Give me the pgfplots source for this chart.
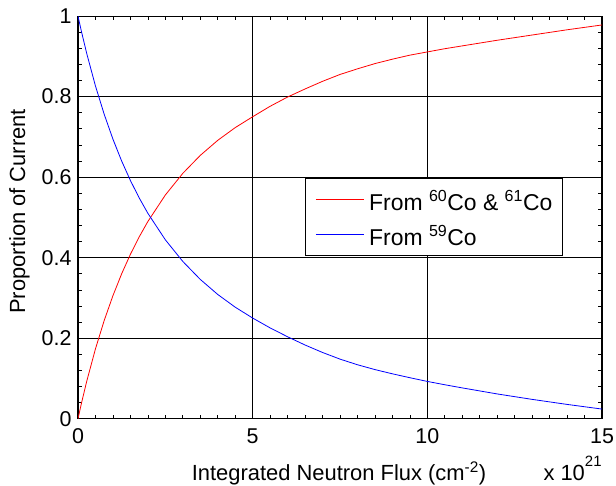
\documentclass[border=0pt]{standalone}
\usepackage{fontspec}
\setmainfont{Liberation Sans}
\usepackage{pgfplots}
\usepackage{pgfplotstable}
\pgfplotsset{compat=1.18}
\pgfplotstableread{
x     blue    red
0     1.0000  0.0000
0.1   0.9612  0.0388
0.25  0.9070  0.0930
0.5   0.8264  0.1736
0.75  0.7561  0.2439
1     0.6944  0.3056
1.25  0.6400  0.3600
1.5   0.5917  0.4083
1.75  0.5487  0.4513
2     0.5102  0.4898
2.5   0.4444  0.5556
3     0.3906  0.6094
3.5   0.3460  0.6540
4     0.3086  0.6914
4.5   0.2770  0.7230
5     0.2500  0.7500
5.5   0.2255  0.7760
6     0.2035  0.7990
6.5   0.1830  0.8190
7     0.1645  0.8380
7.5   0.1480  0.8550
8     0.1340  0.8690
8.5   0.1220  0.8820
9     0.1115  0.8930
9.5   0.1018  0.9030
10    0.0926  0.9110
10.5  0.0843  0.9190
11    0.0765  0.9260
12    0.0615  0.9400
13    0.0480  0.9530
14    0.0355  0.9660
15    0.0239  0.9780
}\datatable
\begin{document}
\fontsize{22}{26}\selectfont
\begin{tikzpicture}
\path[use as bounding box] (-78bp,-66.7bp) rectangle (538bp,418.7bp);
\begin{axis}[
  scale only axis, width=524bp, height=402.6bp,
  at={(0,0)}, anchor=south west,
  clip mode=individual,
  xmin=0, xmax=15, ymin=0, ymax=1,
  xtick={0,5,10,15}, ytick={0,0.2,0.4,0.6,0.8,1},
  xticklabels={0,5,10,15}, yticklabels={0,0.2,0.4,0.6,0.8,1},
  minor x tick num=9, minor y tick num=4,
  tick align=inside, major tick length=5bp, minor tick length=4bp,
  grid=major, major grid style={black, line width=0.7bp},
  axis line style={black, line width=1.1bp},
  tick style={black, line width=0.7bp},
  /pgf/number format/assume math mode=true,
  tick label style={font=\fontsize{21.5}{25}\selectfont},
  xticklabel style={inner sep=0pt, anchor=north, yshift=-9.4bp},
  yticklabel style={inner sep=0pt, anchor=east, xshift=-6.3bp},
  xlabel={Integrated Neutron Flux (cm\textsuperscript{-2})},
  ylabel={Proportion of Current},
  label style={font=\fontsize{22}{26}\selectfont},
  xlabel style={at={(axis description cs:0.498,-0.153)}, anchor=base, inner sep=0pt},
  ylabel style={at={(axis description cs:-0.1011,0.515)}, anchor=base, inner sep=0pt},
  legend style={at={(axis description cs:0.433,0.597)}, anchor=north west,
    draw=black, fill=white, line width=1.1bp, font=\fontsize{23}{27}\selectfont,
    inner xsep=10bp, inner ysep=5bp, row sep=3.5bp, column sep=5bp,
    nodes={inner sep=0pt, text height=26.5bp, text depth=5bp}},
  legend cell align=left,
  legend image code/.code={\draw[#1, line width=0.8bp] (0bp,0bp) -- (48bp,0bp);},
]
\addplot[red, line width=0.8bp] table[x=x, y=red] {\datatable};
\addlegendentry{From \textsuperscript{60}Co \& \textsuperscript{61}Co}
\addplot[blue, line width=0.8bp] table[x=x, y=blue] {\datatable};
\addlegendentry{From \textsuperscript{59}Co}
\node[anchor=base west, inner sep=0pt, font=\fontsize{22}{26}\selectfont] at (axis description cs:0.888,-0.153) {x 10\raisebox{14bp}{\fontsize{15}{18}\selectfont 21}};
\end{axis}
\end{tikzpicture}
\end{document}
